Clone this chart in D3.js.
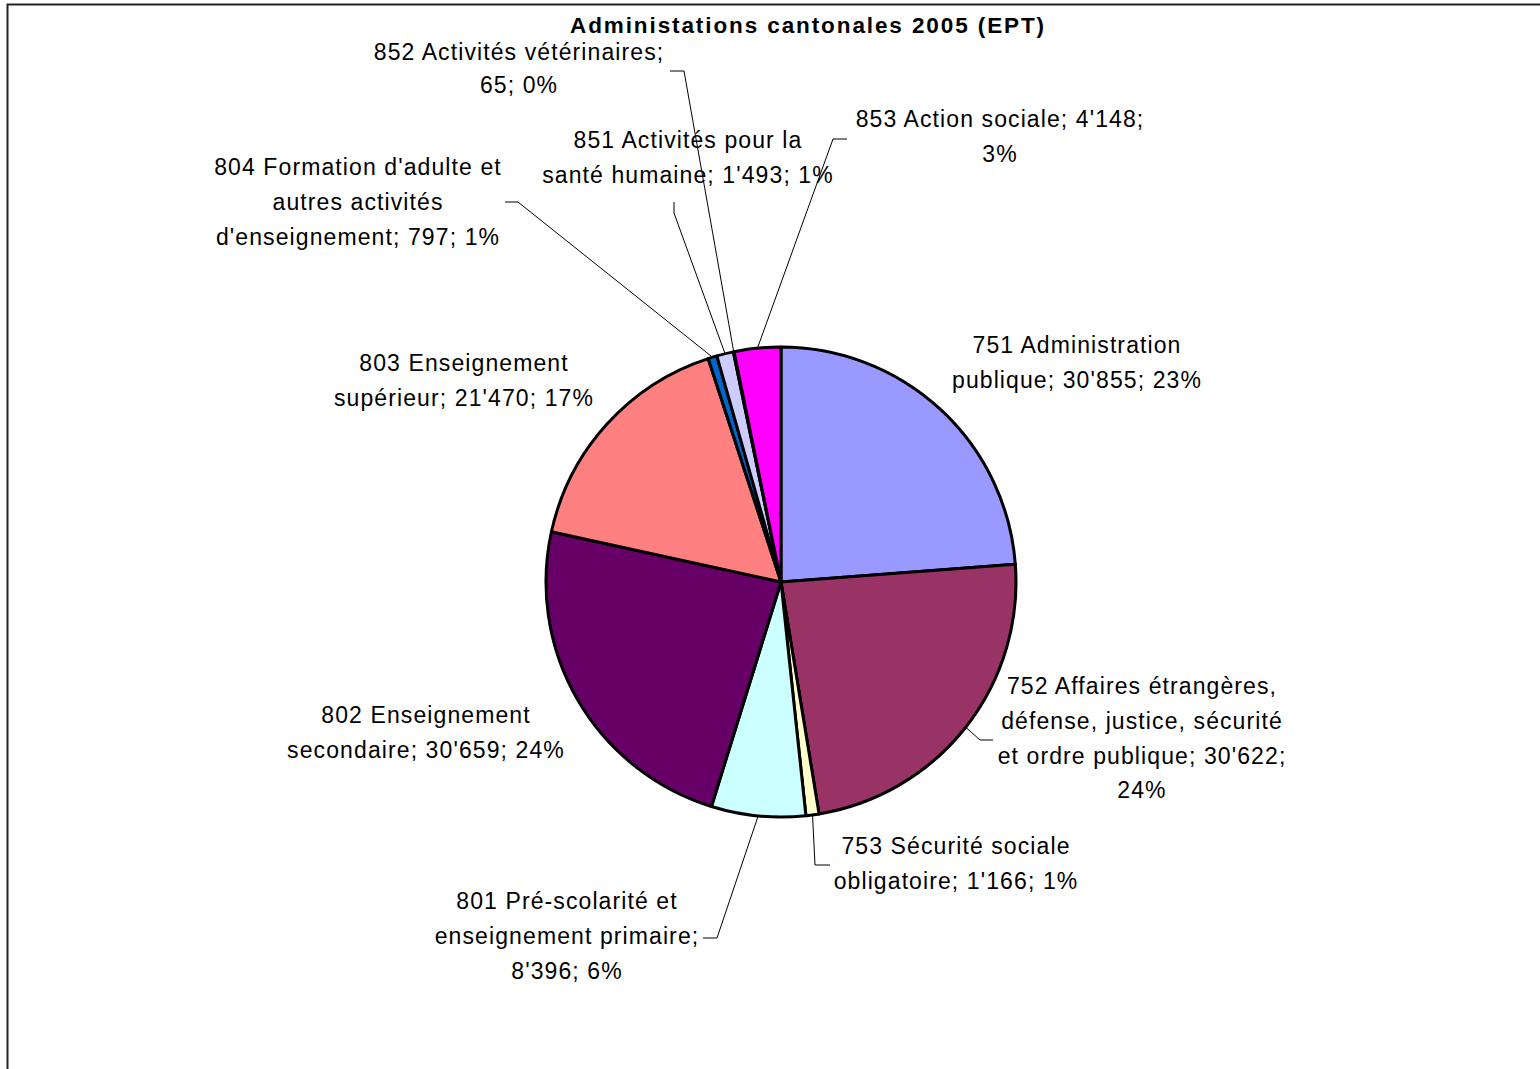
<!DOCTYPE html>
<html>
<head>
<meta charset="utf-8">
<script src="https://cdn.jsdelivr.net/npm/d3@7"></script>
<style>
  html, body { margin: 0; padding: 0; background: #fff; }
  svg { display: block; }
  text { font-family: "Liberation Sans", Arial, sans-serif; fill: #000; }
</style>
</head>
<body>
<svg id="chart" width="1540" height="1069"></svg>
<script>
// Full-time equivalents (EPT) per NOGA branch, cantonal administrations 2005
const categories = [
  "751 Administration publique",
  "752 Affaires étrangères, défense, justice, sécurité et ordre publique",
  "753 Sécurité sociale obligatoire",
  "801 Pré-scolarité et enseignement primaire",
  "802 Enseignement secondaire",
  "803 Enseignement supérieur",
  "804 Formation d'adulte et autres activités d'enseignement",
  "851 Activités pour la santé humaine",
  "852 Activités vétérinaires",
  "853 Action sociale"
];
const values = [30855, 30622, 1166, 8396, 30659, 21470, 797, 1493, 65, 4148];
const percentLabels = ["23%", "24%", "1%", "6%", "24%", "17%", "1%", "1%", "0%", "3%"];
const colors = ["#9999FF", "#993366", "#FFFFCC", "#CCFFFF", "#660066",
                "#FF8080", "#0066CC", "#CCCCFF", "#000080", "#FF00FF"];
const title = "Administations cantonales 2005 (EPT)";

// Label layout: words per line, centre x, first baseline, optional leader elbow points
const labelLayout = [
  { words: [2, 3],       x: 1077, y: 353 },
  { words: [3, 3, 4, 1], x: 1142, y: 694, leader: [[980, 740], [993, 740]] },
  { words: [3, 3],       x: 956,  y: 854, leader: [[815, 865], [830, 865]] },
  { words: [3, 2, 2],    x: 567,  y: 909, leader: [[717, 938], [703, 938]] },
  { words: [2, 3],       x: 426,  y: 723 },
  { words: [2, 3],       x: 464,  y: 371 },
  { words: [4, 2, 3],    x: 358,  y: 175, leader: [[518, 202], [505, 202]] },
  { words: [4, 4],       x: 688,  y: 148, leader: [[674, 213], [674, 202]] },
  { words: [3, 2],       x: 519,  y: 60,  leader: [[684, 71], [670, 71]], lineGap: 33 },
  { words: [4, 1],       x: 1000, y: 127, leader: [[833, 139], [847, 139]] }
];

const svg = d3.select("#chart");
const cx = 781, cy = 582, radius = 235;

// Chart frame
svg.append("path")
  .attr("d", "M7.5,1069V4.5H1540")
  .attr("fill", "none")
  .attr("stroke", "#222")
  .attr("stroke-width", 2);

// Title
svg.append("text")
  .attr("x", 808).attr("y", 33)
  .attr("text-anchor", "middle")
  .attr("font-size", 22.5)
  .attr("font-weight", "bold")
  .attr("letter-spacing", "1.9px")
  .text(title);

const pie = d3.pie().sort(null).value(d => d)
  .startAngle(0).endAngle(2 * Math.PI);
const arcs = pie(values);
const arc = d3.arc().innerRadius(0).outerRadius(radius);

const g = svg.append("g").attr("transform", `translate(${cx},${cy})`);
g.selectAll("path.slice")
  .data(arcs)
  .join("path")
  .attr("class", "slice")
  .attr("d", arc)
  .attr("fill", (d, i) => colors[i])
  .attr("stroke", "#000")
  .attr("stroke-width", 3)
  .attr("stroke-linejoin", "round");

// Number format with apostrophe thousands separator
const fmt = d3.formatLocale({ decimal: ".", thousands: "'", grouping: [3], currency: ["", ""] }).format(",d");

arcs.forEach((a, i) => {
  const lay = labelLayout[i];
  const full = `${categories[i]}; ${fmt(values[i])}; ${percentLabels[i]}`;
  const words = full.split(" ");
  const lines = [];
  let k = 0;
  lay.words.forEach(n => { lines.push(words.slice(k, k + n).join(" ")); k += n; });

  // Leader line from the slice edge at its mid-angle to the label
  if (lay.leader) {
    const mid = (a.startAngle + a.endAngle) / 2;
    const p0 = [cx + radius * Math.sin(mid), cy - radius * Math.cos(mid)];
    svg.append("path")
      .attr("d", d3.line()([p0, ...lay.leader]))
      .attr("fill", "none")
      .attr("stroke", "#000")
      .attr("stroke-width", 1);
  }

  const gap = lay.lineGap || 34.8;
  const t = svg.append("text")
    .attr("text-anchor", "middle")
    .attr("font-size", 23)
    .attr("letter-spacing", "1.1px");
  lines.forEach((ln, j) => {
    t.append("tspan")
      .attr("x", lay.x)
      .attr("y", lay.y + j * gap)
      .text(ln);
  });
});
</script>
</body>
</html>
